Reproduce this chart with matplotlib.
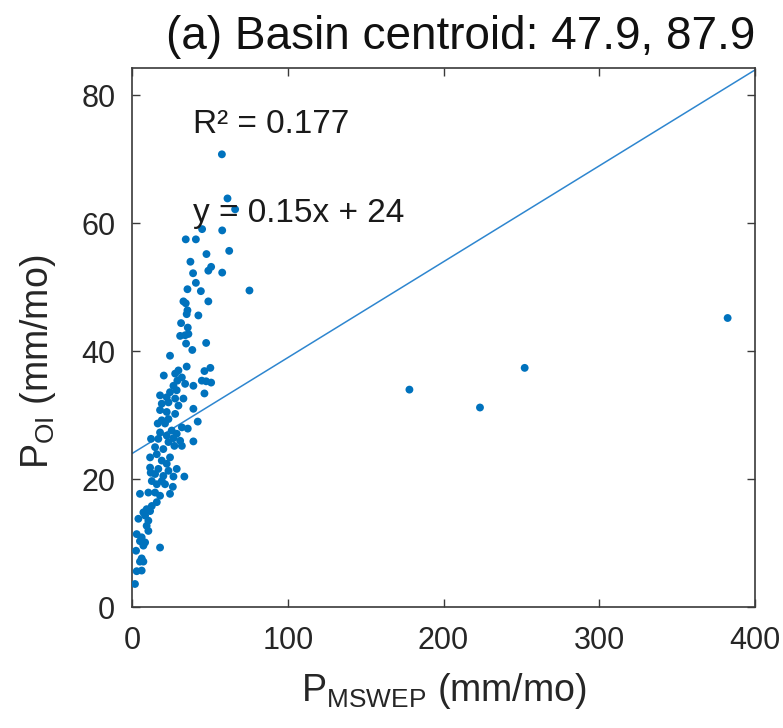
import numpy as np
import matplotlib
matplotlib.use("Agg")
import matplotlib.pyplot as plt
from matplotlib import font_manager

# monthly precipitation, MSWEP vs OI (mm/mo)
p_mswep = [
    57.7, 61.3, 66.2, 45.0, 57.9, 34.5, 41.0, 62.4, 47.8, 37.5, 50.8, 49.0, 39.2, 57.9,
    41.0, 35.6, 44.2, 75.4, 33.0, 34.5, 49.0, 35.6, 35.1, 42.6, 31.5, 35.8, 30.9, 36.2,
    34.1, 34.7, 47.6, 38.7, 24.4,
    35.1, 29.8, 46.5, 50.3, 20.4, 27.7, 32.0, 29.1, 44.8, 47.6, 50.8, 34.1, 26.6, 39.4,
    24.4, 28.7, 46.5, 18.0, 22.3, 27.7, 33.0, 19.1, 23.4, 29.8, 39.4, 18.0, 22.3, 27.7,
    23.4, 19.1, 16.5, 42.2, 21.2, 32.0, 25.5, 35.8, 18.0, 28.7, 22.3, 26.6, 12.2, 16.9,
    30.9, 23.4, 39.4, 27.2, 32.0, 14.8, 20.1, 15.9, 24.4, 11.6, 19.1, 22.3, 28.7, 11.6,
    16.9, 23.4, 14.8, 20.1, 26.6, 33.6,
    12.0, 12.7, 19.1, 15.9, 21.2, 26.2, 5.1, 10.5, 14.8, 18.0, 24.4, 15.9, 12.7, 9.4,
    7.3, 11.6, 8.4, 4.1, 10.5, 9.4, 10.5, 3.0, 6.2, 5.1, 8.4, 7.3, 18.0, 2.6, 6.2, 5.1,
    7.3, 3.0, 6.2, 1.9,
    178.1, 223.4, 252.1, 382.4,
]
p_oi = [
    70.8, 63.9, 62.2, 59.1, 58.9, 57.5, 57.5, 55.7, 55.2, 54.0, 53.2, 52.6, 52.2, 52.3,
    50.7, 49.7, 49.4, 49.5, 47.8, 47.5, 47.8, 46.4, 45.8, 45.6, 44.4, 43.7, 42.4, 42.7,
    42.5, 41.2, 41.3, 40.2, 39.3,
    37.6, 37.0, 36.9, 37.4, 36.2, 36.5, 35.9, 35.4, 35.4, 35.3, 35.1, 34.9, 34.6, 34.6,
    33.6, 33.9, 33.4, 33.1, 32.8, 32.6, 32.6, 31.8, 32.0, 31.5, 31.0, 30.8, 30.5, 30.2,
    29.4, 29.2, 28.7, 29.0, 28.7, 28.1, 27.6, 27.9, 27.3, 27.1, 26.8, 26.4, 26.3, 26.3,
    26.0, 25.8, 25.9, 25.2, 25.2, 25.0, 24.7, 23.9, 23.4, 23.4, 22.9, 22.4, 21.6, 21.8,
    21.6, 21.3, 20.8, 20.5, 20.4, 20.4,
    21.0, 19.7, 19.7, 19.2, 19.2, 18.8, 17.7, 17.9, 17.9, 17.4, 17.7, 16.4, 15.8, 15.3,
    14.8, 15.0, 14.3, 13.8, 13.5, 12.7, 11.9, 11.4, 10.9, 10.3, 10.1, 9.6, 9.3, 8.8, 7.6,
    7.1, 7.1, 5.6, 5.7, 3.6,
    34.0, 31.2, 37.4, 45.2,
]
slope, intercept = 0.15, 24
r2 = 0.177
title = "(a) Basin centroid: 47.9, 87.9"

names = {f.name for f in font_manager.fontManager.ttflist}
narrow = "Liberation Sans Narrow" if "Liberation Sans Narrow" in names else "Liberation Sans"

plt.rcParams["font.family"] = ["Liberation Sans", "DejaVu Sans"]
plt.rcParams["mathtext.fontset"] = "custom"
plt.rcParams["mathtext.rm"] = narrow
plt.rcParams["mathtext.it"] = narrow

fig = plt.figure(figsize=(7.83, 7.28), dpi=100)
ax = fig.add_axes([0.1686, 0.1662, 0.7957, 0.7404])

blue = "#0072BD"
ax.scatter(p_mswep, p_oi, s=32, color=blue, edgecolors="none", zorder=3)

xx = np.array([0, 400])
ax.plot(xx, slope * xx + intercept, color="#2E86CF", lw=1.1, zorder=2)

ax.set_xlim(0, 400)
ax.set_ylim(0, 84.3)
ax.set_xticks([0, 100, 200, 300, 400])
ax.set_yticks([0, 20, 40, 60, 80])

for sp in ax.spines.values():
    sp.set_color("#3a3a3a")
    sp.set_linewidth(1.2)
ax.tick_params(direction="in", length=6, width=1.0, color="#3a3a3a",
               top=True, right=True, labelsize=22, labelcolor="#262626")
ax.tick_params(axis="x", pad=14)
ax.tick_params(axis="y", pad=12)
for lab in ax.get_xticklabels() + ax.get_yticklabels():
    lab.set_fontfamily(narrow)

ax.set_xlabel(r"$\mathrm{P_{MSWEP}}$ (mm/mo)", fontsize=27, family=narrow, color="#262626")
ax.set_ylabel(r"$\mathrm{P_{OI}}$ (mm/mo)", fontsize=27, family=narrow, color="#262626")
ax.xaxis.set_label_coords(0.5, -0.118)
ax.yaxis.set_label_coords(-0.118, 0.455)

ax.text(39.2, 74.1, f"R² = {r2}", fontsize=24, color="#1a1a1a")
ax.text(39.2, 60.2, f"y = {slope}x + {intercept}", fontsize=24, color="#1a1a1a")

ax.set_title(title, loc="right", fontsize=33, pad=14, color="#111111")

fig.savefig("out.png", dpi=100)
